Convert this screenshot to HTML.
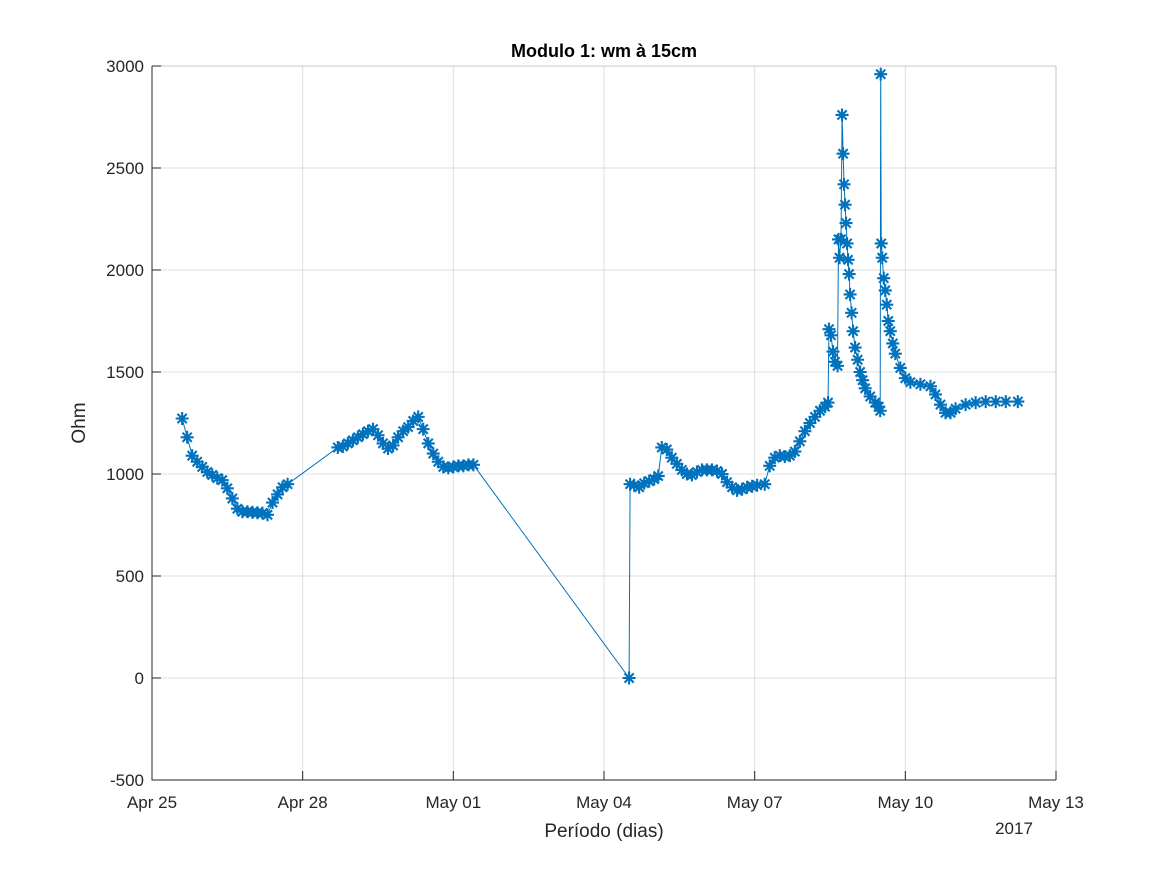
<!DOCTYPE html>
<html><head><meta charset="utf-8"><style>
body{margin:0;background:#fff}
svg text{font-family:"Liberation Sans",Helvetica,Arial,sans-serif;fill:#262626}
</style></head><body>
<svg id="chart" width="1167" height="875" xmlns="http://www.w3.org/2000/svg">
<rect width="1167" height="875" fill="#fff"/>
<g id="grid"></g>
<g id="series"></g>
<g id="axes"></g>
<text x="604" y="57" text-anchor="middle" font-size="18" font-weight="bold" style="fill:#000">Modulo 1: wm à 15cm</text>
<text x="604" y="837" text-anchor="middle" font-size="19">Período (dias)</text>
<text x="1014" y="834" text-anchor="middle" font-size="17">2017</text>
<text transform="translate(85,423) rotate(-90)" text-anchor="middle" font-size="19">Ohm</text>
</svg>
<script>
const days=[0.6,0.7,0.8,0.9,1.0,1.1,1.2,1.3,1.4,1.5,1.6,1.7,1.8,1.9,2.0,2.1,2.2,2.3,2.4,2.5,2.6,2.7,
3.7,3.8,3.9,4.0,4.1,4.2,4.3,4.4,4.5,4.6,4.7,4.8,4.9,5.0,5.1,5.2,5.3,5.4,5.5,5.6,5.7,5.8,5.9,6.0,6.1,6.2,6.3,6.4,
9.5,9.52,9.6,9.7,9.8,9.9,10.0,10.08,10.15,10.25,10.35,10.45,10.55,10.65,10.75,10.85,10.95,11.05,11.15,11.25,11.35,11.45,11.55,11.65,11.75,11.85,11.95,12.05,12.2,12.3,12.4,12.5,12.6,12.7,12.8,12.9,13.0,13.1,13.2,13.3,13.4,13.46,
13.48,13.52,13.56,13.6,13.65,13.67,13.69,13.72,13.74,13.76,13.78,13.8,13.82,13.84,13.86,13.88,13.9,13.93,13.96,14.0,14.05,14.1,14.15,14.2,14.3,14.4,14.47,14.5,
14.51,14.52,14.54,14.57,14.6,14.63,14.66,14.7,14.75,14.8,14.9,15.0,15.1,15.3,15.5,15.6,15.7,15.8,15.9,16.0,16.2,16.4,16.6,16.8,17.0,17.24];
const ohm=[1272,1180,1090,1060,1035,1010,995,980,970,930,880,830,815,815,812,810,808,800,860,900,935,950,
1130,1135,1150,1165,1180,1195,1210,1220,1190,1150,1125,1140,1180,1210,1230,1260,1280,1220,1150,1100,1060,1035,1030,1035,1040,1040,1045,1045,
0,950,945,935,955,965,975,990,1130,1120,1080,1050,1020,1000,995,1010,1020,1020,1020,1015,1000,960,935,920,925,935,940,945,950,1040,1080,1090,1085,1090,1110,1160,1210,1250,1280,1310,1330,1350,
1710,1680,1600,1550,1530,2150,2060,2150,2760,2570,2420,2320,2230,2130,2050,1980,1880,1790,1700,1620,1560,1500,1460,1420,1380,1350,1330,1310,
2960,2130,2060,1960,1900,1830,1750,1700,1640,1590,1520,1470,1450,1440,1430,1390,1340,1300,1300,1320,1340,1350,1355,1355,1355,1355];
const yTicks=[-500,0,500,1000,1500,2000,2500,3000];
const xTickDays=[0,3,6,9,12,15,18];
const xTickLabels=["Apr 25","Apr 28","May 01","May 04","May 07","May 10","May 13"];

const PL=152,PR=1056,PT=66,PB=780,NS="http://www.w3.org/2000/svg";
const xs=d=>PL+d*(PR-PL)/18;
const ys=v=>PB-(v+500)*(PB-PT)/3500;
function mk(tag,attrs,parent){const e=document.createElementNS(NS,tag);for(const k in attrs)e.setAttribute(k,attrs[k]);parent.appendChild(e);return e;}
const gridG=document.getElementById('grid'),axesG=document.getElementById('axes'),serG=document.getElementById('series');
yTicks.forEach(v=>{const y=ys(v);
 const g=mk('line',{x1:PL,x2:PR,y1:y,y2:y,stroke:'#dfdfdf','stroke-width':1},gridG);
 
 
 const tk=mk('line',{x1:PL,x2:PL+9,y1:y,y2:y,stroke:'#262626'},axesG);
 
 
 const t=mk('text',{x:PL-8,y:y+6,'text-anchor':'end','font-size':17},axesG);t.textContent=v;
 
 
});
xTickDays.forEach((d,i)=>{const x=xs(d);
 const g=mk('line',{x1:x,x2:x,y1:PT,y2:PB,stroke:'#dfdfdf','stroke-width':1},gridG);
 
 
 const tk=mk('line',{x1:x,x2:x,y1:PB,y2:PB-9,stroke:'#262626'},axesG);
 
 
 const t=mk('text',{x:x,y:PB+28,'text-anchor':'middle','font-size':17},axesG);t.textContent=xTickLabels[i];
 
 
});
const axLine=mk('path',{d:`M${PL},${PT}V${PB}H${PR}`,fill:'none',stroke:'#262626','stroke-width':1},axesG);


const boxLine=mk('path',{d:`M${PL},${PT}H${PR}V${PB}`,fill:'none',stroke:'#262626','stroke-width':0.6,'stroke-opacity':0.25},axesG);


let pd='';days.forEach((d,i)=>{pd+=(i?'L':'M')+xs(d).toFixed(1)+','+ys(ohm[i]).toFixed(1);});
const ln=mk('path',{d:pd,fill:'none',stroke:'#0072BD','stroke-width':1},serG);


days.forEach((d,i)=>{const x=xs(d),y=ys(ohm[i]),r=6.5,q=4.6;
 const m=mk('path',{d:`M${x-r},${y}H${x+r}M${x},${y-r}V${y+r}M${x-q},${y-q}L${x+q},${y+q}M${x-q},${y+q}L${x+q},${y-q}`,stroke:'#0072BD','stroke-width':2.1,fill:'none'},serG);
 
 
});
</script>
</body></html>
